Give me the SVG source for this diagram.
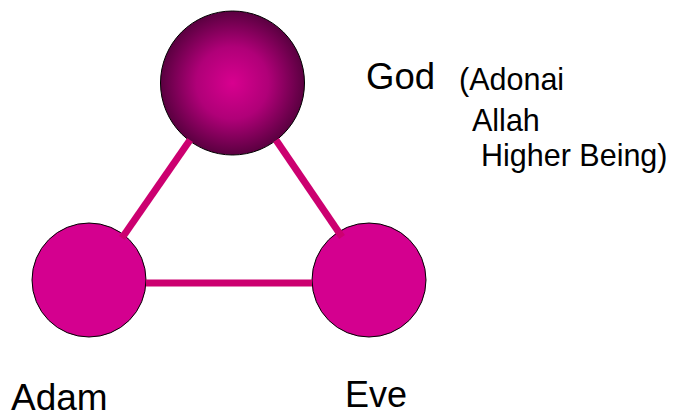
<svg xmlns="http://www.w3.org/2000/svg" width="684" height="418" viewBox="0 0 684 418">
<style>
.node circle{stroke:#000;stroke-width:1}
.edge{stroke:#CC0070;stroke-width:7;fill:none}
text{font-family:"Liberation Sans",Arial,sans-serif;fill:#000}
.sub{font-size:30.5px}
</style>
<defs>
<radialGradient id="g" cx="50%" cy="50%" r="50%">
<stop offset="0" stop-color="#D8008F"/>
<stop offset="0.5" stop-color="#B00078"/>
<stop offset="1" stop-color="#5A0040"/>
</radialGradient>
</defs>
<rect width="684" height="418" fill="#fff"/>
<g id="god" class="node">
<circle cx="232.5" cy="83" r="72" fill="url(#g)"/>
<text x="366" y="89" font-size="36.5">God</text>
<text class="sub" x="459" y="90">(Adonai</text>
<text class="sub" x="472" y="131">Allah</text>
<text class="sub" x="481" y="166">Higher Being)</text>
</g>
<g id="adam" class="node">
<circle cx="89" cy="280" r="57" fill="#D4008F"/>
<text x="11" y="410" font-size="37">Adam</text>
</g>
<g id="eve" class="node">
<circle cx="369" cy="280" r="57" fill="#D4008F"/>
<text x="345" y="407" font-size="36">Eve</text>
</g>
<g id="connectors">
<line class="edge" x1="190" y1="140" x2="122" y2="238"/>
<line class="edge" x1="276" y1="140" x2="342" y2="237"/>
<line class="edge" x1="146" y1="283" x2="312" y2="283"/>
</g>
</svg>
